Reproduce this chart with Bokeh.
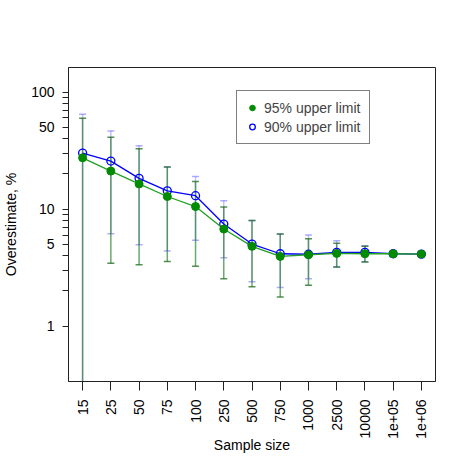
import math
from bokeh.plotting import figure
from bokeh.models import (Range1d, FactorRange, FixedTicker, BasicTickFormatter,
                          Legend, LegendItem, ColumnDataSource)
from bokeh.embed import file_html
from bokeh.resources import INLINE

sizes = ["15", "25", "50", "75", "100", "250", "500", "750", "1000", "2500",
         "10000", "1e+05", "1e+06"]
est95 = [27.4, 21.1, 16.4, 12.8, 10.5, 6.75, 4.80, 3.94, 4.07, 4.18, 4.15, 4.15, 4.12]
est90 = [30.1, 25.7, 18.3, 14.3, 13.0, 7.44, 5.02, 4.15, 4.11, 4.26, 4.26, 4.15, 4.12]
up95 = [59.6, 41.0, 32.8, 22.9, 17.2, 10.4, 8.0, 6.11, 5.57, 5.09, 4.80, 4.37, 4.23]
lo95 = [0.1, 3.45, 3.34, 3.57, 3.24, 2.54, 2.17, 1.77, 2.23, 3.19, 3.52, 3.94, 4.02]
up90 = [64.5, 46.4, 34.8, 22.9, 19.0, 11.8, 8.0, 6.11, 5.99, 5.36, 4.85, 4.40, 4.25]
lo90 = [0.1, 6.15, 4.95, 4.38, 5.40, 3.84, 2.39, 2.14, 2.54, 3.19, 3.55, 3.95, 4.05]
ymajor = [1, 5, 10, 50, 100]
yminor = [2, 3, 4, 6, 7, 8, 9, 20, 30, 40, 60, 70, 80, 90]

src = ColumnDataSource(dict(x=sizes, est95=est95, est90=est90, up95=up95,
                            lo95=lo95, up90=up90, lo90=lo90))

FONT = "Liberation Sans"

p = figure(width=463, height=462, output_backend="svg", toolbar_location=None,
           x_range=FactorRange(*sizes, range_padding=0), y_axis_type="log",
           y_range=Range1d(0.336, 162),
           min_border_left=64, min_border_right=28, min_border_top=67,
           min_border_bottom=81)
p.xgrid.visible = False
p.ygrid.visible = False
p.outline_line_color = "#222222"
p.outline_line_width = 1
p.background_fill_color = "white"
p.border_fill_color = "white"

# error bars (90% first, then 95%)
p.segment(x0="x", y0="lo90", x1="x", y1="up90", source=src,
          line_color="#3333ff", line_alpha=0.3, line_width=1.5)
p.scatter(x="x", y="up90", source=src, marker="dash", size=7,
          line_color="#3333ff", line_alpha=0.4, line_width=1.5)
p.scatter(x="x", y="lo90", source=src, marker="dash", size=7,
          line_color="#3333ff", line_alpha=0.4, line_width=1.5)
p.segment(x0="x", y0="lo95", x1="x", y1="up95", source=src,
          line_color="#1e7a1e", line_alpha=0.65, line_width=1.5)
p.scatter(x="x", y="up95", source=src, marker="dash", size=7,
          line_color="#1e6b1e", line_alpha=0.75, line_width=1.5)
p.scatter(x="x", y="lo95", source=src, marker="dash", size=7,
          line_color="#1e6b1e", line_alpha=0.75, line_width=1.5)

# lines and points
p.line(x="x", y="est90", source=src, line_color="#0000ff", line_width=1.3)
b_pts = p.scatter(x="x", y="est90", source=src, marker="circle", size=8,
                  fill_color=None, line_color="#0000ff", line_width=1.3)
p.line(x="x", y="est95", source=src, line_color="#22a022", line_width=1.3)
g_pts = p.scatter(x="x", y="est95", source=src, marker="circle", size=8,
                  fill_color="#008b00", line_color="#008b00")

# axes
ya = p.yaxis[0]
ya.ticker = FixedTicker(ticks=ymajor, minor_ticks=yminor)
ya.formatter = BasicTickFormatter()
ya.major_tick_out = 6
ya.major_tick_in = 0
ya.minor_tick_out = 6
ya.minor_tick_in = 0
ya.major_label_standoff = 8
ya.axis_label = "Overestimate, %"
ya.axis_label_standoff = 9
ya.axis_label_text_font_style = "normal"

xa = p.xaxis[0]
xa.major_label_orientation = math.pi / 2
xa.major_tick_out = 9
xa.major_tick_in = 0
xa.major_label_standoff = 9
xa.axis_label = "Sample size"
xa.axis_label_standoff = -5
xa.axis_label_text_font_style = "normal"

for ax in (xa, ya):
    ax.axis_line_color = "#222222"
    ax.major_tick_line_color = "#222222"
    ax.minor_tick_line_color = "#222222"
    ax.major_label_text_font = FONT
    ax.major_label_text_font_size = "14px"
    ax.major_label_text_color = "black"
    ax.axis_label_text_font = FONT
    ax.axis_label_text_font_size = "14px"
    ax.axis_label_text_color = "black"

legend = Legend(items=[LegendItem(label="95% upper limit", renderers=[g_pts]),
                       LegendItem(label="90% upper limit", renderers=[b_pts])],
                location=(168, 237))
legend.label_text_font = FONT
legend.label_text_font_size = "14px"
legend.label_height = 17
legend.glyph_height = 17
legend.glyph_width = 14
legend.label_standoff = 5
legend.spacing = 2
legend.padding = 8
legend.margin = 0
legend.border_line_color = "black"
legend.border_line_width = 1
legend.background_fill_alpha = 1
p.add_layout(legend, "center")

open("out.html", "w").write(file_html(p, INLINE))
